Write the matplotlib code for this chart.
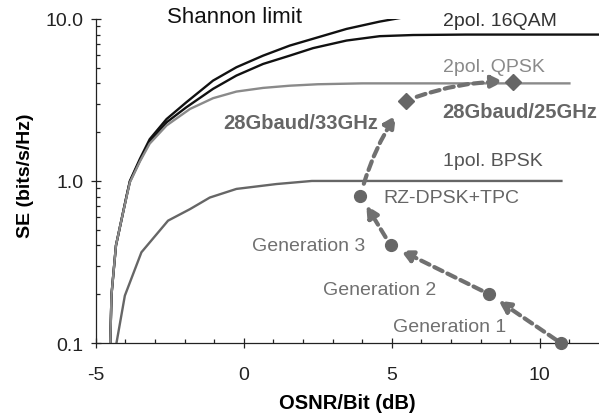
import matplotlib.pyplot as plt
from matplotlib.ticker import FixedLocator, FixedFormatter, NullFormatter

plt.rcParams['font.family'] = ['Liberation Sans', 'DejaVu Sans']

# curves
shannon_x = [-4.52, -4.47, -4.32, -4.13, -3.96, -3.85, -3.51, -3.18, -2.61, -1.94, -1.04, -0.25, 0.65, 1.55, 2.34, 3.47, 4.59, 5.72, 6.51]
shannon_y = [0.09, 0.2, 0.4, 0.58, 0.81, 1.0, 1.37, 1.81, 2.41, 3.06, 4.16, 5.03, 5.93, 6.84, 7.54, 8.67, 9.62, 10.47, 11.05]

qam16_x = [-4.52, -4.47, -4.32, -4.13, -3.96, -3.85, -3.51, -3.18, -2.61, -1.94, -1.04, -0.25, 0.65, 1.55, 2.34, 3.47, 4.59, 5.72, 7.5, 12.0]
qam16_y = [0.09, 0.2, 0.4, 0.58, 0.81, 0.99, 1.34, 1.75, 2.3, 2.85, 3.70, 4.47, 5.27, 5.93, 6.6, 7.35, 7.82, 7.95, 8.0, 8.0]

qpsk_x = [-4.52, -4.47, -4.32, -4.13, -3.96, -3.85, -3.51, -3.18, -2.61, -1.82, -1.04, -0.25, 0.65, 1.55, 2.5, 4.0, 11.0]
qpsk_y = [0.09, 0.2, 0.4, 0.58, 0.8, 0.98, 1.32, 1.7, 2.2, 2.78, 3.24, 3.56, 3.75, 3.87, 3.95, 4.0, 4.0]

bpsk_x = [-4.32, -4.02, -3.46, -2.56, -1.82, -1.15, -0.25, 1.10, 2.3, 10.73]
bpsk_y = [0.096, 0.196, 0.363, 0.569, 0.67, 0.79, 0.893, 0.957, 1.0, 1.0]

# experiments
gen_x = [10.71, 8.29, 4.96, 3.94]
gen_y = [0.1, 0.2, 0.4, 0.81]
dia_x = [5.49, 9.10]
dia_y = [3.13, 4.1]

fig = plt.figure(figsize=(5.99, 4.14), dpi=100)
ax = fig.add_axes([0.160, 0.169, 0.840, 0.783])

ax.plot(shannon_x, shannon_y, color='#111111', lw=1.7)
ax.plot(qam16_x, qam16_y, color='#111111', lw=1.7)
ax.plot(qpsk_x, qpsk_y, color='#8a8a8a', lw=1.7)
ax.plot(bpsk_x, bpsk_y, color='#666666', lw=1.7)

ax.plot(gen_x, gen_y, 'o', color='#666666', ms=8.5, ls='none', clip_on=False, zorder=5)
ax.plot(dia_x, dia_y, 'D', color='#666666', ms=8, ls='none', zorder=5)

arrow_col = '#707070'
def arrow(p0, p1, rad=0.0, sa=6, sb=8):
    ax.annotate('', xy=p1, xytext=p0,
                arrowprops=dict(arrowstyle='-|>,head_length=0.7,head_width=0.35',
                                color=arrow_col, lw=3, linestyle=(0, (2.2, 1.3)),
                                shrinkA=sa, shrinkB=sb,
                                connectionstyle='arc3,rad=%s' % rad))

arrow((gen_x[0], gen_y[0]), (gen_x[1], gen_y[1]), sa=4, sb=8)
arrow((gen_x[1], gen_y[1]), (gen_x[2], gen_y[2]), sa=6, sb=8)
arrow((gen_x[2], gen_y[2]), (gen_x[3], gen_y[3]), sa=7, sb=8)
arrow((gen_x[3], gen_y[3]), (dia_x[0], dia_y[0]), rad=-0.1, sa=9, sb=13)
arrow((dia_x[0], dia_y[0]), (dia_x[1], dia_y[1]), rad=-0.1, sa=8, sb=7)

fs = 14
ax.text(-2.6, 10.3, 'Shannon limit', fontsize=16, color='#111111', va='center')
ax.text(6.72, 9.73, '2pol. 16QAM', fontsize=fs, color='#333333', va='center')
ax.text(6.72, 5.06, '2pol. QPSK', fontsize=fs, color='#8a8a8a', va='center')
ax.text(6.72, 2.7, '28Gbaud/25GHz', fontsize=14.5, color='#666666', va='center', fontweight='bold')
ax.text(-0.71, 2.31, '28Gbaud/33GHz', fontsize=14.5, color='#666666', va='center', fontweight='bold')
ax.text(6.72, 1.33, '1pol. BPSK', fontsize=fs, color='#555555', va='center')
ax.text(4.71, 0.796, 'RZ-DPSK+TPC', fontsize=fs, color='#666666', va='center')
ax.text(4.09, 0.4, 'Generation 3', fontsize=fs, color='#707070', va='center', ha='right')
ax.text(2.68, 0.215, 'Generation 2', fontsize=fs, color='#707070', va='center')
ax.text(5.04, 0.126, 'Generation 1', fontsize=fs, color='#707070', va='center')

ax.set_yscale('log')
ax.set_xlim(-5, 12)
ax.set_ylim(0.1, 10)

ax.xaxis.set_major_locator(FixedLocator([-5, 0, 5, 10]))
ax.xaxis.set_major_formatter(FixedFormatter(['-5', '0', '5', '10']))
ax.xaxis.set_minor_locator(FixedLocator([v for v in range(-4, 12) if v % 5 != 0]))
ax.yaxis.set_major_locator(FixedLocator([0.1, 1, 10]))
ax.yaxis.set_major_formatter(FixedFormatter(['0.1', '1.0', '10.0']))
ax.yaxis.set_minor_locator(FixedLocator([m * 10.0 ** e for e in (-1, 0) for m in range(2, 10)]))
ax.yaxis.set_minor_formatter(NullFormatter())

ax.tick_params(which='major', direction='inout', length=7, width=0.9, labelsize=14, color='#222222', labelcolor='#222222')
ax.tick_params(which='minor', direction='in', length=3, width=0.9, color='#222222')
ax.tick_params(axis='x', which='major', pad=13)
ax.tick_params(axis='y', which='major', pad=5.5)

for s in ['top', 'right']:
    ax.spines[s].set_visible(False)
for s in ['left', 'bottom']:
    ax.spines[s].set_linewidth(0.9)
    ax.spines[s].set_color('#222222')

ax.set_xlabel('OSNR/Bit (dB)', fontsize=14.5, fontweight='bold', labelpad=7)
ax.set_ylabel('SE (bits/s/Hz)', fontsize=14, fontweight='bold', labelpad=8, y=0.52)

fig.savefig('out.png', dpi=100)
